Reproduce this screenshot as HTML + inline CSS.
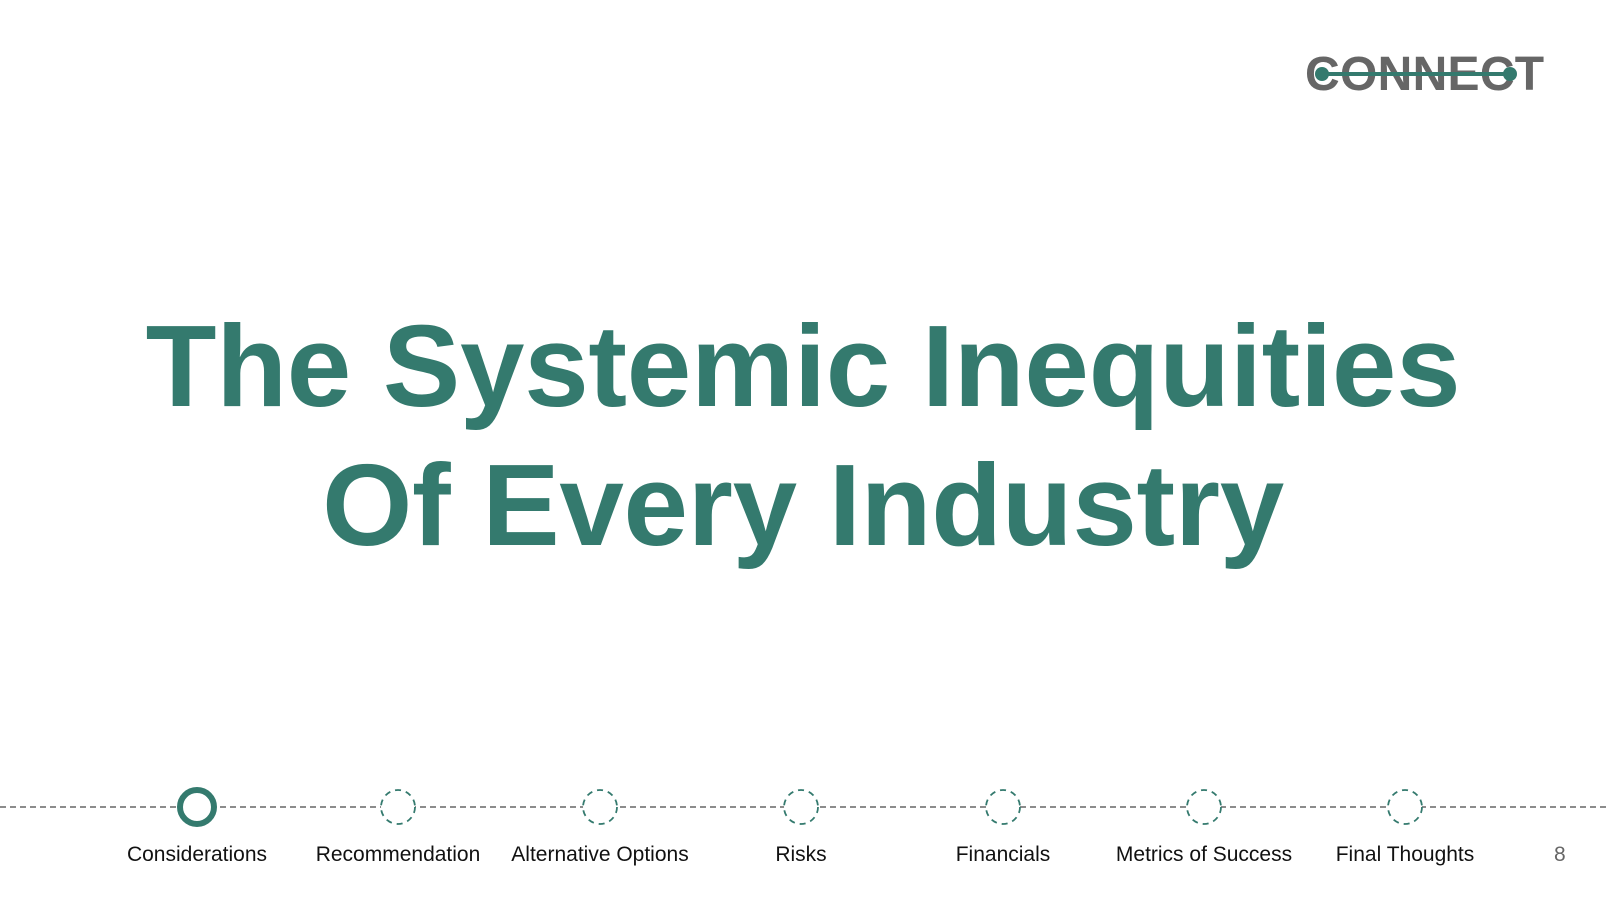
<!DOCTYPE html>
<html><head><meta charset="utf-8"><style>
html,body{margin:0;padding:0;background:#fff;}
body{width:1606px;height:904px;position:relative;overflow:hidden;font-family:"Liberation Sans",sans-serif;}
.title{position:absolute;left:0;width:1606px;text-align:center;color:#347a6e;font-weight:bold;font-size:116px;line-height:1;letter-spacing:-0.3px;}
.lbl{position:absolute;top:843px;width:220px;margin-left:-110px;text-align:center;font-size:21px;color:#111;}
</style></head><body>
<div style="position:absolute;left:1305px;top:50px;width:244px;height:50px;">
<div style="position:absolute;left:0;top:0;font-size:48px;font-weight:bold;color:#666;letter-spacing:0.3px;line-height:50px;">CONNECT</div>
<div style="position:absolute;left:16px;top:22px;width:190px;height:4px;background:#347a6e;"></div>
<div style="position:absolute;left:10px;top:17px;width:14px;height:14px;border-radius:50%;background:#347a6e;"></div>
<div style="position:absolute;left:198px;top:17px;width:14px;height:14px;border-radius:50%;background:#347a6e;"></div>
</div>
<div class="title" style="top:308px;">The Systemic Inequities</div>
<div class="title" style="top:447px;">Of Every Industry</div>
<svg width="1606" height="904" style="position:absolute;left:0;top:0;">
<line x1="0" y1="807" x2="1606" y2="807" stroke="#666" stroke-width="1.5" stroke-dasharray="6,4"/>
<circle cx="197" cy="807" r="17" fill="#fff" stroke="#347a6e" stroke-width="6"/>
<g fill="#fff" stroke="#347a6e" stroke-width="1.8" stroke-dasharray="6,5">
<circle cx="398" cy="807" r="17"/>
<circle cx="600" cy="807" r="17"/>
<circle cx="801" cy="807" r="17"/>
<circle cx="1003" cy="807" r="17"/>
<circle cx="1204" cy="807" r="17"/>
<circle cx="1405" cy="807" r="17"/>
</g></svg>
<div class="lbl" style="left:197px;">Considerations</div>
<div class="lbl" style="left:398px;">Recommendation</div>
<div class="lbl" style="left:600px;">Alternative Options</div>
<div class="lbl" style="left:801px;">Risks</div>
<div class="lbl" style="left:1003px;">Financials</div>
<div class="lbl" style="left:1204px;">Metrics of Success</div>
<div class="lbl" style="left:1405px;">Final Thoughts</div>
<div style="position:absolute;left:1554px;top:843px;font-size:21px;color:#666;">8</div>
</body></html>
